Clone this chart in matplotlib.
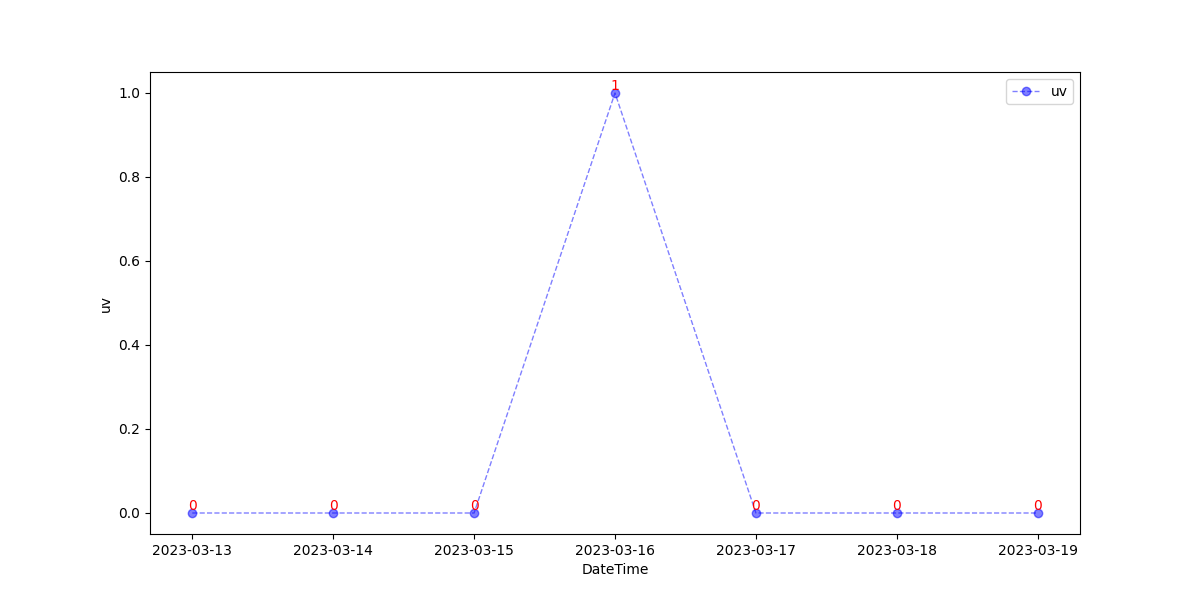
import matplotlib
matplotlib.use('Agg')
import matplotlib.pyplot as plt

dates = ['2023-03-13', '2023-03-14', '2023-03-15', '2023-03-16',
         '2023-03-17', '2023-03-18', '2023-03-19']
uv = [0, 0, 0, 1, 0, 0, 0]

fig, ax = plt.subplots(figsize=(12, 6), dpi=100)
ax.plot(dates, uv, 'o--', color='blue', alpha=0.5, linewidth=1, label='uv')
for d, v in zip(dates, uv):
    ax.text(d, v, str(v), color='red', ha='center', va='bottom', fontsize=10)

ax.set_xlabel('DateTime')
ax.set_ylabel('uv')
ax.legend(loc='upper right')
plt.savefig('out.png')
